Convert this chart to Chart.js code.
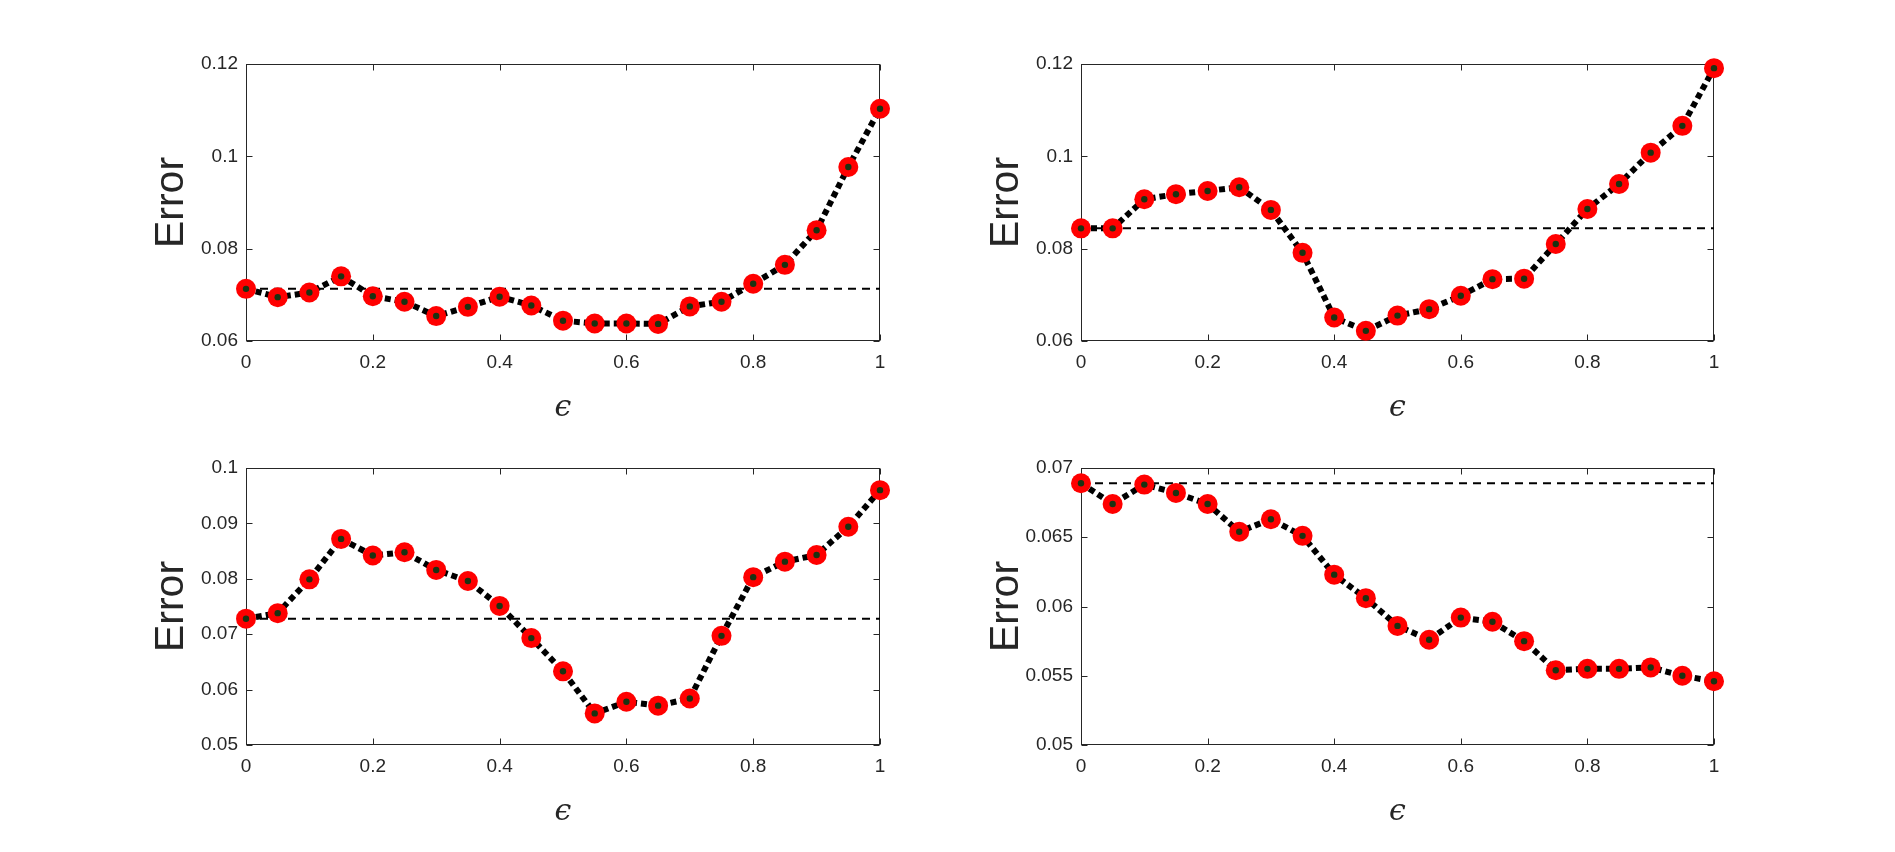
<!DOCTYPE html>
<html>
<head>
<meta charset="utf-8">
<title>Error vs epsilon</title>
<script src="https://cdn.jsdelivr.net/npm/chart.js@4.4.1/dist/chart.umd.min.js"></script>
<style>
  html, body { margin: 0; padding: 0; background: #fff; }
  body { width: 1895px; height: 852px; position: relative; overflow: hidden; }
  canvas { position: absolute; }
</style>
</head>
<body>
<canvas id="c0"></canvas>
<canvas id="c1"></canvas>
<canvas id="c2"></canvas>
<canvas id="c3"></canvas>
<script>
// values
const eps = [0, 0.05, 0.1, 0.15, 0.2, 0.25, 0.3, 0.35, 0.4, 0.45, 0.5,
             0.55, 0.6, 0.65, 0.7, 0.75, 0.8, 0.85, 0.9, 0.95, 1];

const errA = [0.0713, 0.0695, 0.0705, 0.0740, 0.0697, 0.0685, 0.0654, 0.0674, 0.0696, 0.0677, 0.0644,
              0.0638, 0.0638, 0.0637, 0.0675, 0.0685, 0.0724, 0.0765, 0.0840, 0.0977, 0.1103];
const errB = [0.0844, 0.0844, 0.0907, 0.0918, 0.0925, 0.0933, 0.0884, 0.0791, 0.0651, 0.0622, 0.0655,
              0.0669, 0.0698, 0.0734, 0.0735, 0.0810, 0.0886, 0.0940, 0.1008, 0.1066, 0.1191];
const errC = [0.0728, 0.0738, 0.0799, 0.0872, 0.0842, 0.0848, 0.0816, 0.0796, 0.0751, 0.0693, 0.0633,
              0.0557, 0.0578, 0.0571, 0.0584, 0.0697, 0.0803, 0.0831, 0.0843, 0.0894, 0.0960];
const errD = [0.0689, 0.0674, 0.0688, 0.0682, 0.0674, 0.0654, 0.0663, 0.0651, 0.0623, 0.0606, 0.0586,
              0.0576, 0.0592, 0.0589, 0.0575, 0.0554, 0.0555, 0.0555, 0.0556, 0.0550, 0.0546];

const baselines = [0.0713, 0.0844, 0.0728, 0.0689];

const yMin = [0.06, 0.06, 0.05, 0.05];
const yMax = [0.12, 0.12, 0.1, 0.07];
const yStep = [0.02, 0.02, 0.01, 0.005];
const xStep = 0.2;

// where each canvas sits on the page
const yAxisW = 110, xAxisH = 85, padTop = 20, padRight = 20;
const boxes = [
  { left: 246, top: 64, w: 634, h: 277 },
  { left: 1081, top: 64, w: 633, h: 277 },
  { left: 246, top: 468, w: 634, h: 277 },
  { left: 1081, top: 468, w: 633, h: 277 },
];

const axisColor = "#262626";
const tickLen = 6;

// matlab style box with inward ticks on all four sides
const framePlugin = {
  id: "frame",
  beforeDatasetsDraw(chart) {
    const { ctx, chartArea: a } = chart;
    const { x, y } = chart.scales;
    const l = Math.round(a.left) + 0.5, r = Math.round(a.right) - 0.5;
    const t = Math.round(a.top) + 0.5, b = Math.round(a.bottom) - 0.5;
    ctx.save();
    ctx.strokeStyle = axisColor;
    ctx.lineWidth = 1;
    ctx.beginPath();
    x.ticks.forEach((tk) => {
      const px = Math.round(x.getPixelForValue(tk.value)) + 0.5;
      ctx.moveTo(px, b); ctx.lineTo(px, b - tickLen);
      ctx.moveTo(px, t); ctx.lineTo(px, t + tickLen);
    });
    y.ticks.forEach((tk) => {
      const py = Math.round(y.getPixelForValue(tk.value)) + 0.5;
      ctx.moveTo(l, py); ctx.lineTo(l + tickLen, py);
      ctx.moveTo(r, py); ctx.lineTo(r - tickLen, py);
    });
    ctx.stroke();
    ctx.strokeRect(l, t, r - l, b - t);
    ctx.restore();
  },
};

const fmt = (v) => String(+Number(v).toFixed(4));

function makeChart(i, values) {
  const box = boxes[i];
  const canvas = document.getElementById("c" + i);
  const cw = box.w + yAxisW + padRight;
  const ch = box.h + padTop + xAxisH;
  canvas.width = cw;
  canvas.height = ch;
  canvas.style.width = cw + "px";
  canvas.style.height = ch + "px";
  canvas.style.left = box.left - yAxisW + "px";
  canvas.style.top = box.top - padTop + "px";

  const pts = eps.map((e, k) => ({ x: e, y: values[k] }));
  const base = [{ x: 0, y: baselines[i] }, { x: 1, y: baselines[i] }];

  new Chart(canvas, {
    type: "line",
    data: {
      datasets: [
        { data: pts, showLine: false, pointRadius: 3.2, pointBackgroundColor: "#1b3312",
          pointBorderWidth: 0, order: 0, clip: false },
        { data: pts, showLine: false, pointRadius: 10, pointBackgroundColor: "#ff0000",
          pointBorderWidth: 0, order: 1, clip: false },
        { data: pts, borderColor: "#000", borderWidth: 6, borderDash: [6, 4],
          borderCapStyle: "butt", pointRadius: 0, tension: 0, order: 2, clip: false },
        { data: base, borderColor: "#000", borderWidth: 2, borderDash: [8, 6],
          pointRadius: 0, order: 3 },
      ],
    },
    options: {
      responsive: false,
      animation: false,
      events: [],
      layout: { padding: { top: padTop, right: padRight, left: 0, bottom: 0 } },
      plugins: { legend: { display: false }, tooltip: { enabled: false } },
      scales: {
        x: {
          type: "linear",
          min: 0,
          max: 1,
          grid: { display: false, drawTicks: false },
          border: { display: false },
          ticks: {
            stepSize: xStep,
            autoSkip: false,
            maxRotation: 0,
            padding: 10,
            color: axisColor,
            font: { family: "Liberation Sans", size: 19 },
            callback: fmt,
          },
          title: {
            display: true,
            text: "ϵ",
            color: axisColor,
            padding: { top: 0, bottom: 0 },
            font: { family: "DejaVu Serif", size: 30, style: "italic" },
          },
          afterFit(s) { s.height = xAxisH; },
        },
        y: {
          min: yMin[i],
          max: yMax[i],
          grid: { display: false, drawTicks: false },
          border: { display: false },
          ticks: {
            stepSize: yStep[i],
            autoSkip: false,
            padding: 8,
            color: axisColor,
            font: { family: "Liberation Sans", size: 19 },
            callback: fmt,
          },
          title: {
            display: true,
            text: "Error",
            color: axisColor,
            padding: { top: 11, bottom: 0 },
            font: { family: "Liberation Sans", size: 41 },
          },
          afterFit(s) { s.width = yAxisW; },
        },
      },
    },
    plugins: [framePlugin],
  });
}

[errA, errB, errC, errD].forEach((vals, i) => makeChart(i, vals));
</script>
</body>
</html>
